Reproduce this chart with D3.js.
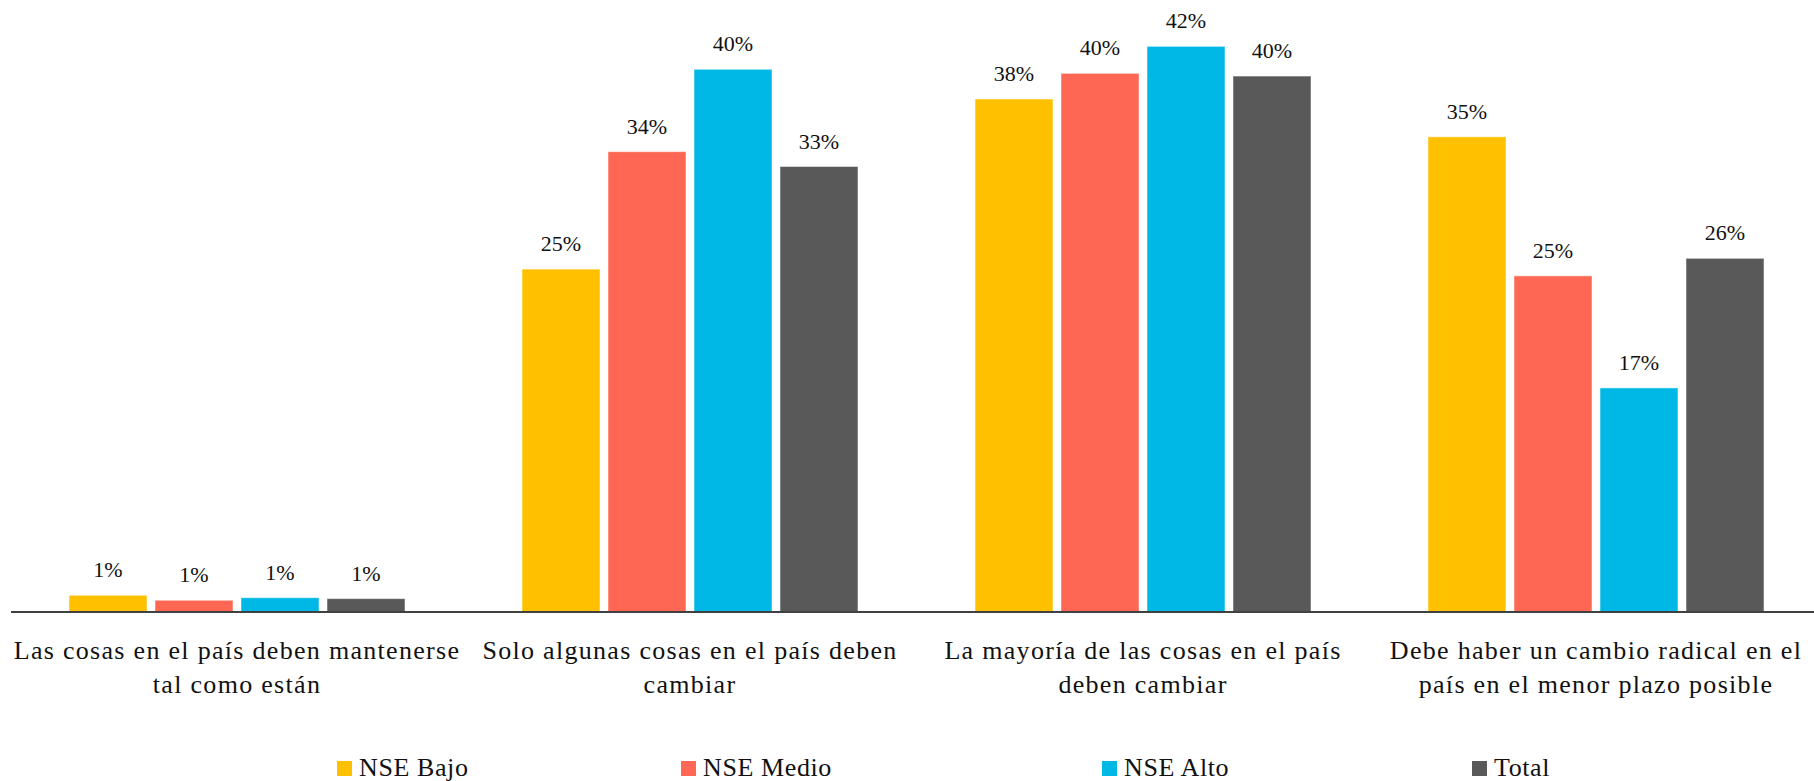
<!DOCTYPE html>
<html><head><meta charset="utf-8">
<script src="https://cdn.jsdelivr.net/npm/d3@7/dist/d3.min.js"></script>
<style>
html,body{margin:0;padding:0;background:#fff;}
svg{display:block;font-family:"Liberation Serif","DejaVu Serif",serif;}
</style></head>
<body>
<svg id="chart" width="1814" height="781"></svg>
<script>
const categories = [
  ["Las cosas en el país deben mantenerse", "tal como están"],
  ["Solo algunas cosas en el país deben", "cambiar"],
  ["La mayoría de las cosas en el país", "deben cambiar"],
  ["Debe haber un cambio radical en el", "país en el menor plazo posible"]
];
const seriesNames = ["NSE Bajo", "NSE Medio", "NSE Alto", "Total"];
const nseBajo  = [1.24, 25.4, 38.0, 35.2];
const nseMedio = [0.87, 34.1, 39.9, 24.9];
const nseAlto  = [1.06, 40.2, 41.9, 16.6];
const total    = [0.99, 33.0, 39.7, 26.2];
const seriesValues = [nseBajo, nseMedio, nseAlto, total];
const colors = ["#FFC000", "#FF6755", "#00B8E6", "#595959"];

const FONT = '"Liberation Serif","DejaVu Serif",serif';
const svg = d3.select("#chart");
const catKeys = categories.map((c, i) => "c" + i);

const x0 = d3.scaleBand().domain(catKeys).range([10.5, 1822.5]).padding(0);
const groupW = 336;
const x1 = d3.scaleBand().domain(seriesNames).range([0, groupW]).paddingInner(8/86).paddingOuter(0);
const y = d3.scaleLinear().domain([0, 45]).range([612, 4.5]);

const groups = svg.append("g").selectAll("g")
  .data(catKeys)
  .join("g")
  .attr("transform", d => `translate(${x0(d) + (x0.bandwidth() - groupW) / 2},0)`);

groups.each(function(ck, ci) {
  const g = d3.select(this);
  const rows = seriesNames.map((s, si) => ({s, si, v: seriesValues[si][ci]}));
  g.selectAll("rect").data(rows).join("rect")
    .attr("x", d => x1(d.s))
    .attr("y", d => y(d.v))
    .attr("width", x1.bandwidth())
    .attr("height", d => y(0) - y(d.v))
    .attr("fill", d => colors[d.si])
    .attr("stroke", "#ffffff")
    .attr("stroke-opacity", 0.5)
    .attr("stroke-width", 1);
  g.selectAll("text.lbl").data(rows).join("text")
    .attr("class", "lbl")
    .attr("x", d => x1(d.s) + x1.bandwidth() / 2)
    .attr("y", d => y(d.v) - 18)
    .attr("text-anchor", "middle")
    .attr("font-size", 22)
    .attr("fill", "#111")
    .text(d => Math.round(d.v) + "%");
});

// x axis
const axis = svg.append("g")
  .attr("transform", `translate(0,${y(0)})`)
  .call(d3.axisBottom(x0).tickSize(0).tickSizeOuter(0).tickFormat(""))
  .attr("font-family", FONT);
axis.select(".domain").remove();
axis.append("line")
  .attr("x1", 11).attr("x2", 1814).attr("y1", 0).attr("y2", 0)
  .attr("stroke", "#404040").attr("stroke-width", 2);

axis.selectAll(".tick text").remove();
axis.selectAll(".tick").each(function(d, i) {
  const t = d3.select(this).append("text")
    .attr("text-anchor", "middle")
    .attr("font-family", FONT)
    .attr("font-size", 26)
    .attr("letter-spacing", 1.3)
    .attr("fill", "#111");
  categories[i].forEach((line, li) => {
    t.append("tspan").attr("x", 0).attr("y", 47 + li * 34).text(line);
  });
});

// legend
const legendX = [337, 681, 1102, 1472];
const legend = svg.append("g").selectAll("g").data(seriesNames).join("g")
  .attr("transform", (d, i) => `translate(${legendX[i]},0)`);
legend.append("rect")
  .attr("x", 0).attr("y", 761).attr("width", 15).attr("height", 15)
  .attr("fill", (d, i) => colors[i]);
legend.append("text")
  .attr("x", 22).attr("y", 776)
  .attr("font-size", 26)
  .attr("letter-spacing", 0.6)
  .attr("fill", "#111")
  .text(d => d);
</script>
</body></html>
